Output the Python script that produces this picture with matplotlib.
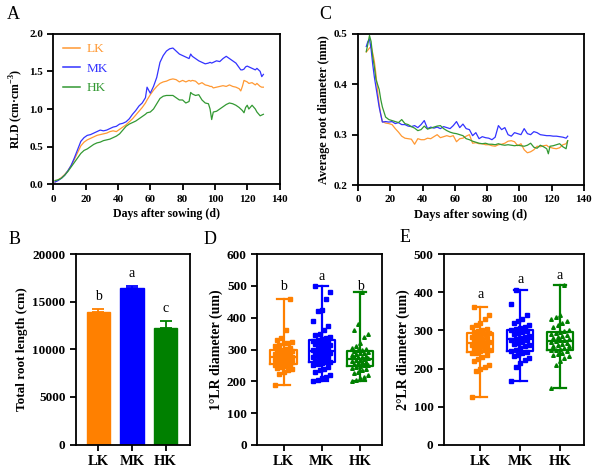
import matplotlib
matplotlib.use('Agg')
import matplotlib.pyplot as plt
import numpy as np

plt.rcParams.update({
    'font.family': ['Liberation Serif', 'DejaVu Serif'],
    'axes.linewidth': 1.3,
    'xtick.major.width': 1.3, 'ytick.major.width': 1.3,
    'xtick.major.size': 4, 'ytick.major.size': 4,
    'mathtext.fontset': 'custom',
    'mathtext.rm': 'Liberation Serif',
    'mathtext.bf': 'Liberation Serif:bold',
})

groups = ['LK', 'MK', 'HK']
line_colors = ['#FF9933', '#3333FF', '#339933']
solid_colors = ['#FF8000', '#0000FF', '#008000']

# ---------- Panel A: RLD over time ----------
days_A = [1, 3, 5, 7, 9, 11, 13, 15, 17, 19,
          21, 23, 25, 27, 29, 31, 33, 35, 37, 39,
          41, 43, 45, 47, 49, 51, 53, 55, 57, 58,
          60, 62, 64, 66, 68, 70, 72, 74, 76, 78,
          80, 82, 84, 85, 86, 88, 90, 92, 94, 96,
          97, 98, 99, 101, 103, 105, 107, 109, 111, 113,
          115, 116, 117, 118, 119, 120, 121, 123, 125, 126,
          128, 129, 130]
rld_LK = [0.03, 0.06, 0.09, 0.13, 0.18, 0.25, 0.33, 0.42, 0.51, 0.56,
          0.59, 0.61, 0.63, 0.65, 0.66, 0.67, 0.68, 0.70, 0.71, 0.70,
          0.73, 0.76, 0.79, 0.83, 0.87, 0.92, 0.97, 1.02, 1.08, 1.12,
          1.19, 1.25, 1.30, 1.34, 1.36, 1.37, 1.39, 1.40, 1.39, 1.36,
          1.38, 1.36, 1.38, 1.37, 1.38, 1.37, 1.33, 1.35, 1.32, 1.31,
          1.30, 1.30, 1.28, 1.29, 1.30, 1.31, 1.30, 1.32, 1.30, 1.29,
          1.27, 1.24, 1.30, 1.38, 1.37, 1.36, 1.34, 1.35, 1.32, 1.34,
          1.30, 1.29, 1.29]
rld_MK = [0.03, 0.05, 0.08, 0.12, 0.18, 0.25, 0.35, 0.46, 0.57, 0.62,
          0.65, 0.66, 0.68, 0.70, 0.72, 0.71, 0.72, 0.74, 0.76, 0.77,
          0.80, 0.81, 0.83, 0.87, 0.93, 0.98, 1.04, 1.08, 1.15, 1.29,
          1.21, 1.30, 1.42, 1.62, 1.71, 1.77, 1.80, 1.81, 1.77, 1.73,
          1.71, 1.69, 1.67, 1.73, 1.70, 1.67, 1.64, 1.62, 1.60, 1.61,
          1.62, 1.61, 1.62, 1.64, 1.63, 1.67, 1.70, 1.67, 1.64, 1.61,
          1.55, 1.52, 1.52, 1.53, 1.56, 1.57, 1.56, 1.54, 1.52, 1.54,
          1.50, 1.43, 1.46]
rld_HK = [0.05, 0.06, 0.08, 0.12, 0.17, 0.23, 0.29, 0.35, 0.41, 0.45,
          0.47, 0.50, 0.53, 0.55, 0.56, 0.58, 0.59, 0.60, 0.62, 0.64,
          0.67, 0.72, 0.77, 0.80, 0.82, 0.84, 0.87, 0.90, 0.93, 0.95,
          0.96, 1.00, 1.07, 1.14, 1.17, 1.18, 1.18, 1.18, 1.15, 1.12,
          1.12, 1.08, 1.10, 1.22, 1.20, 1.18, 1.19, 1.12, 1.08, 1.07,
          1.00, 0.86, 0.96, 0.97, 1.00, 1.03, 1.06, 1.08, 1.07, 1.05,
          1.02, 1.00, 0.98, 0.95, 1.02, 1.05, 1.00, 1.05, 1.00, 0.96,
          0.91, 0.92, 0.93]

# ---------- Panel C: average root diameter ----------
days_C = [5, 6, 7, 8, 9, 10, 11, 12, 13, 14,
          15, 17, 19, 21, 23, 25, 27, 29, 31, 33,
          35, 37, 39, 41, 43, 45, 47, 49, 51, 53,
          55, 57, 59, 61, 63, 65, 67, 69, 71, 73,
          75, 77, 79, 81, 83, 85, 87, 89, 91, 93,
          95, 97, 99, 101, 103, 105, 107, 109, 111, 113,
          115, 117, 118, 119, 121, 123, 125, 127, 129, 130]
diam_LK = [0.464, 0.468, 0.472, 0.475, 0.462, 0.446, 0.420, 0.387, 0.360, 0.340,
           0.326, 0.323, 0.322, 0.320, 0.312, 0.305, 0.297, 0.293, 0.292, 0.291,
           0.281, 0.292, 0.290, 0.290, 0.293, 0.292, 0.296, 0.300, 0.294, 0.296,
           0.298, 0.296, 0.298, 0.286, 0.292, 0.293, 0.297, 0.300, 0.283, 0.284,
           0.282, 0.282, 0.280, 0.280, 0.278, 0.277, 0.280, 0.281, 0.283, 0.287,
           0.288, 0.286, 0.278, 0.282, 0.270, 0.264, 0.266, 0.270, 0.277, 0.276,
           0.278, 0.279, 0.276, 0.275, 0.273, 0.272, 0.274, 0.280, 0.282, 0.288]
diam_MK = [0.475, 0.485, 0.490, 0.470, 0.440, 0.415, 0.395, 0.375, 0.355, 0.340,
           0.325, 0.326, 0.325, 0.326, 0.322, 0.324, 0.320, 0.320, 0.317, 0.316,
           0.318, 0.314, 0.320, 0.328, 0.312, 0.315, 0.313, 0.315, 0.312, 0.316,
           0.314, 0.312, 0.318, 0.326, 0.314, 0.321, 0.312, 0.310, 0.298, 0.304,
           0.292, 0.296, 0.294, 0.293, 0.290, 0.295, 0.318, 0.310, 0.314, 0.300,
           0.297, 0.304, 0.302, 0.300, 0.312, 0.302, 0.300, 0.306, 0.304, 0.300,
           0.299, 0.298, 0.298, 0.298, 0.297, 0.297, 0.296, 0.295, 0.293, 0.297]
diam_HK = [0.465, 0.480, 0.497, 0.485, 0.455, 0.435, 0.410, 0.400, 0.390, 0.370,
           0.355, 0.335, 0.330, 0.328, 0.326, 0.324, 0.330, 0.322, 0.320, 0.316,
           0.313, 0.308, 0.310, 0.317, 0.311, 0.313, 0.315, 0.317, 0.318, 0.312,
           0.308, 0.305, 0.303, 0.302, 0.300, 0.298, 0.292, 0.290, 0.287, 0.285,
           0.283, 0.282, 0.283, 0.281, 0.281, 0.280, 0.282, 0.280, 0.279, 0.280,
           0.279, 0.278, 0.279, 0.278, 0.277, 0.279, 0.283, 0.275, 0.273, 0.279,
           0.276, 0.272, 0.262, 0.277, 0.278, 0.280, 0.282, 0.276, 0.272, 0.288]

# ---------- Panel B: total root length ----------
trl_mean = [13900, 16400, 12250]
trl_err = [350, 250, 700]
trl_letters = ['b', 'a', 'c']

# ---------- Panel D: 1st-order LR diameter ----------
lr1_LK = [190, 222, 230, 235, 240, 242, 245, 248, 250, 252, 255, 255, 258, 260, 260,
          262, 265, 265, 268, 270, 270, 272, 275, 275, 278, 280, 282, 285, 288, 290,
          292, 295, 298, 300, 302, 305, 310, 315, 320, 322, 325, 330, 335, 360, 460]
lr1_MK = [200, 205, 210, 215, 220, 230, 235, 240, 245, 250, 255, 258, 260, 262, 265,
          268, 270, 275, 278, 280, 282, 285, 288, 290, 292, 295, 298, 300, 305, 308,
          310, 315, 318, 320, 322, 325, 328, 330, 332, 335, 340, 345, 350, 360, 375,
          390, 420, 425, 460, 480, 500]
lr1_HK = [200, 205, 210, 215, 220, 225, 230, 235, 240, 242, 245, 248, 250, 252, 255,
          258, 260, 262, 265, 266, 268, 270, 272, 275, 276, 278, 280, 282, 285, 288,
          290, 292, 295, 298, 300, 302, 305, 310, 320, 340, 350, 360, 380, 480]
lr1_letters = ['b', 'a', 'b']

# ---------- Panel E: 2nd-order LR diameter ----------
lr2_LK = [125, 195, 200, 205, 210, 220, 225, 230, 235, 240, 242, 245, 248, 250, 252,
          255, 258, 260, 262, 264, 265, 267, 270, 272, 275, 278, 280, 283, 285, 288,
          290, 293, 295, 298, 300, 305, 310, 315, 320, 330, 340, 362]
lr2_MK = [168, 205, 215, 222, 228, 232, 236, 240, 243, 246, 250, 255, 258, 262, 265,
          268, 270, 274, 276, 278, 280, 283, 286, 290, 292, 295, 298, 300, 303, 306,
          310, 315, 320, 325, 330, 340, 370, 405]
lr2_HK = [150, 210, 220, 228, 232, 235, 238, 242, 245, 248, 250, 252, 255, 258, 260,
          262, 265, 268, 270, 272, 275, 275, 278, 280, 282, 285, 288, 290, 292, 295,
          298, 300, 310, 315, 320, 325, 330, 335, 340, 420]
lr2_letters = ['a', 'a', 'a']

# horizontal spread pattern for the dot overlays
spread = [-0.22, -0.11, 0.0, 0.11, 0.22, -0.165, -0.055, 0.055, 0.165]

TICK_FS = 8
LAB_FS = 8.5


def style_ticks(ax, fs=TICK_FS):
    for lab in ax.get_xticklabels() + ax.get_yticklabels():
        lab.set_fontweight('bold')
        lab.set_fontsize(fs)


fig = plt.figure(figsize=(6, 4.75), dpi=100)

# ---- A ----
axA = fig.add_axes([0.0889, 0.612, 0.377, 0.317])
for vals, c, g in zip([rld_LK, rld_MK, rld_HK], line_colors, groups):
    axA.plot(days_A, vals, color=c, lw=0.9, label=g)
axA.set_xlim(0, 140)
axA.set_ylim(0, 2.0)
axA.set_xticks(np.arange(0, 141, 20))
axA.set_yticks(np.arange(0, 2.01, 0.5))
axA.yaxis.set_major_formatter(matplotlib.ticker.FormatStrFormatter('%.1f'))
axA.set_xlabel('Days after sowing (d)', fontsize=LAB_FS, fontweight='bold', labelpad=3)
axA.set_ylabel(r'RLD (cm·cm$^{\mathbf{-3}}$)', fontsize=LAB_FS, fontweight='bold', labelpad=3)
style_ticks(axA)
leg = axA.legend(loc='upper left', frameon=False, fontsize=9.5, handlelength=1.3,
                 labelspacing=0.55, handletextpad=0.5, borderaxespad=0.3,
                 labelcolor='linecolor')
for h in leg.get_lines():
    h.set_linewidth(1.1)

# ---- C ----
axC = fig.add_axes([0.597, 0.6105, 0.376, 0.318])
for vals, c in zip([diam_LK, diam_MK, diam_HK], line_colors):
    axC.plot(days_C, vals, color=c, lw=0.9)
axC.set_xlim(0, 140)
axC.set_ylim(0.2, 0.5)
axC.set_xticks(np.arange(0, 141, 20))
axC.set_yticks([0.2, 0.3, 0.4, 0.5])
axC.yaxis.set_major_formatter(matplotlib.ticker.FormatStrFormatter('%.1f'))
axC.set_xlabel('Days after sowing (d)', fontsize=LAB_FS + 0.5, fontweight='bold', labelpad=3)
axC.set_ylabel('Average root diameter (mm)', fontsize=LAB_FS + 0.3, fontweight='bold', labelpad=3)
style_ticks(axC)

# ---- B ----
axB = fig.add_axes([0.1267, 0.0642, 0.19, 0.401])
xpos = np.arange(3)
axB.bar(xpos, trl_mean, width=0.69, color=solid_colors, edgecolor=solid_colors)
for i in range(3):
    axB.errorbar(xpos[i], trl_mean[i], yerr=[[0], [trl_err[i]]], color=solid_colors[i],
                 capsize=4.5, capthick=1.3, elinewidth=1.3, fmt='none')
    axB.text(xpos[i], trl_mean[i] + trl_err[i] + 600, trl_letters[i], ha='center',
             va='bottom', fontsize=10)
axB.set_xlim(-0.67, 2.73)
axB.set_ylim(0, 20000)
axB.set_yticks(np.arange(0, 20001, 5000))
axB.set_xticks(xpos)
axB.set_xticklabels(groups)
axB.set_ylabel('Total root length (cm)', fontsize=9.5, fontweight='bold', labelpad=3)
style_ticks(axB, 9.5)
for lab in axB.get_xticklabels():
    lab.set_fontsize(10.5)


def box_panel(ax, data, letters, letter_y, ymax, xlim, width, label):
    bp = ax.boxplot(data, positions=xpos, widths=width, whis=(0, 100), showfliers=False,
                    capwidths=0.32, patch_artist=False)
    for i, c in enumerate(solid_colors):
        bp['boxes'][i].set(color=c, lw=1.6)
        bp['medians'][i].set(color=c, lw=1.6)
        for k in (2 * i, 2 * i + 1):
            bp['whiskers'][k].set(color=c, lw=1.6)
            bp['caps'][k].set(color=c, lw=1.6)
    markers = ['s', 's', '^']
    for i, vals in enumerate(data):
        xs = [xpos[i] + spread[j % len(spread)] for j in range(len(vals))]
        ax.plot(xs, vals, ls='none', marker=markers[i], ms=2.6, color=solid_colors[i],
                mec=solid_colors[i])
        ax.text(xpos[i], letter_y[i], letters[i], ha='center', va='center', fontsize=10)
    ax.set_xlim(*xlim)
    ax.set_ylim(0, ymax)
    ax.set_yticks(np.arange(0, ymax + 1, 100))
    ax.set_xticks(xpos)
    ax.set_xticklabels(groups)
    ax.set_ylabel(label, fontsize=10, fontweight='bold', labelpad=3)
    style_ticks(ax, 9.5)
    for lab in ax.get_xticklabels():
        lab.set_fontsize(10.5)


axD = fig.add_axes([0.4288, 0.0632, 0.2083, 0.402])
box_panel(axD, [lr1_LK, lr1_MK, lr1_HK], lr1_letters, [497, 529, 497], 600,
          (-0.685, 2.58), 0.68, '1°LR diameter (um)')

axE = fig.add_axes([0.74, 0.0632, 0.2333, 0.402])
box_panel(axE, [lr2_LK, lr2_MK, lr2_HK], lr2_letters, [393, 432, 445], 500,
          (-0.91, 2.6), 0.65, '2°LR diameter (um)')

for t, x, y in [('A', 0.022, 0.970), ('C', 0.542, 0.970), ('B', 0.025, 0.495),
                ('D', 0.350, 0.495), ('E', 0.675, 0.499)]:
    fig.text(x, y, t, fontsize=13, ha='center', va='center')

fig.savefig('out.png', dpi=100)
